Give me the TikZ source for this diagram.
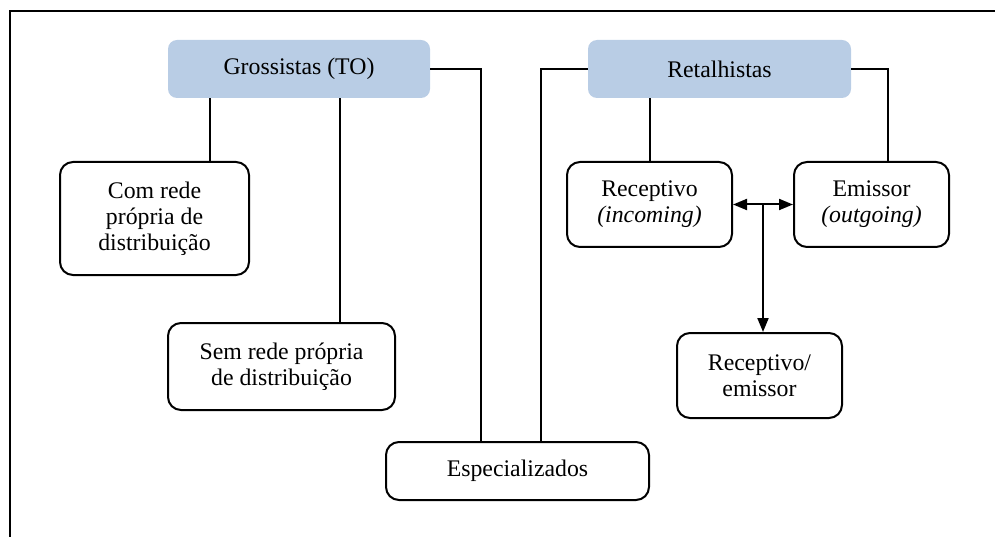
\documentclass[tikz,border=0pt]{standalone}
\usepackage{fontspec}
\setmainfont{Liberation Serif}
\usetikzlibrary{arrows.meta}
\definecolor{headfill}{RGB}{185,205,229}
\begin{document}
\begin{tikzpicture}[x=1pt,y=-1pt,
  every node/.style={font=\fontsize{23.8}{26}\selectfont, align=center, inner sep=0pt},
  head/.style={fill=headfill, rounded corners=9pt, minimum height=58pt},
  leaf/.style={draw, line width=2pt, rounded corners=13pt},
  link/.style={line width=1.6pt},
  flow/.style={line width=2pt, -{Triangle[length=14pt,width=11pt]}},
  twoway/.style={line width=2pt, {Triangle[length=14pt,width=11pt]}-{Triangle[length=14pt,width=11pt]}}
]
\useasboundingbox (0,0) rectangle (995,537);

% open frame: top and left edges only
\draw[line width=2pt] (10,537) -- (10,11) -- (995,11);

% heads
\node[head, minimum width=262pt] (G) at (299,69) {Grossistas (TO)};
\node[head, minimum width=263pt] (R) at (719.5,69) {Retalhistas};

% leaves
\node[leaf, minimum width=189pt, minimum height=113pt] (Com) at (154.5,218.5) {Com rede\\própria de\\distribuição};
\node[leaf, minimum width=227pt, minimum height=87pt] (Sem) at (281.5,366.5) {Sem rede própria\\de distribuição};
\node[leaf, minimum width=263pt, minimum height=58pt] (Esp) at (517.5,471) {Especializados};
\node[leaf, minimum width=165pt, minimum height=85pt] (Rec) at (649.5,204.5) {Receptivo\\\textit{(incoming)}};
\node[leaf, minimum width=155pt, minimum height=85pt] (Emi) at (871.5,204.5) {Emissor\\\textit{(outgoing)}};
\node[leaf, minimum width=165pt, minimum height=85pt] (RE) at (759.5,375.5) {Receptivo/\\emissor};

% drop lines
\coordinate (xa) at (210,0);
\coordinate (xb) at (340,0);
\coordinate (xc) at (481,0);
\coordinate (xd) at (541,0);
\coordinate (xr) at (650,0);
\coordinate (xe) at (888,0);
\coordinate (j) at (763,204.5);

\draw[link] (G.south -| xa) -- (Com.north -| xa);
\draw[link] (G.south -| xb) -- (Sem.north -| xb);
\draw[link] (G.east) -| (xc |- Esp.north);
\draw[link] (R.west) -| (xd |- Esp.north);
\draw[link] (R.south -| xr) -- (Rec.north -| xr);
\draw[link] (R.east) -| (xe |- Emi.north);

% arrows between the retail types
\draw[twoway] (Rec.east) -- (Emi.west);
\draw[flow] (j) -- (j |- RE.north);
\end{tikzpicture}
\end{document}
